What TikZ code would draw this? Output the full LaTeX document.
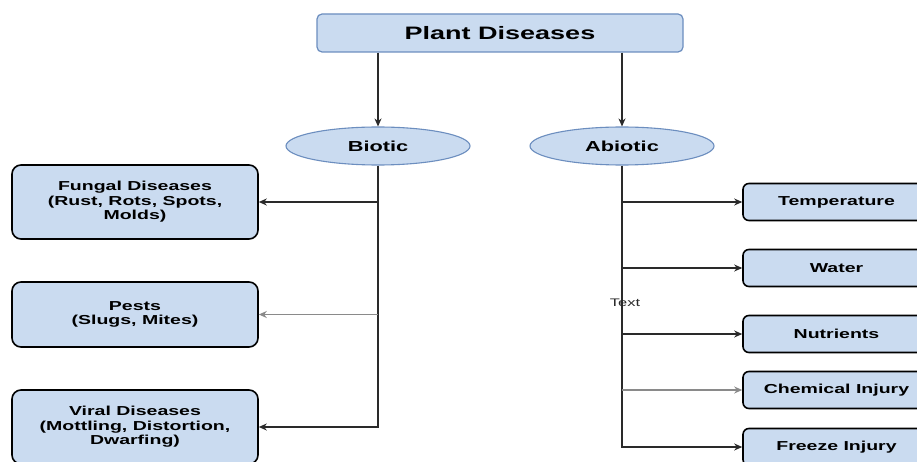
\documentclass[tikz,border=0pt]{standalone}
\usepackage{fontspec}
\setmainfont{Liberation Sans}[FakeStretch=1.5]
\usetikzlibrary{arrows.meta,shapes.geometric}
\definecolor{boxfill}{HTML}{CADBF0}
\definecolor{boxedge}{HTML}{6C8EBF}
\definecolor{linecol}{HTML}{2A2A2A}

\begin{document}
\begin{tikzpicture}[x=1pt,y=-1pt,
    rootbox/.style={draw=boxedge, fill=boxfill, line width=1.2pt, rounded corners=5pt,
      minimum width=366pt, minimum height=38pt, font=\fontsize{18}{20}\selectfont\bfseries},
    branch/.style={ellipse, draw=boxedge, fill=boxfill, line width=1.1pt, inner sep=0pt,
      minimum width=184pt, minimum height=38pt, font=\fontsize{14.5}{16}\selectfont\bfseries},
    leftbox/.style={draw=black, fill=boxfill, line width=1.6pt, rounded corners=9pt, align=center,
      minimum width=246pt, minimum height=74pt, font=\fontsize{13}{14.5}\selectfont\bfseries},
    rightbox/.style={draw=black, fill=boxfill, line width=1.6pt, rounded corners=6pt,
      minimum width=187pt, minimum height=37pt, font=\fontsize{13}{14.5}\selectfont\bfseries},
    link/.style={draw=linecol, line width=1.1pt, -{Stealth[length=8pt,width=7pt]}},
    faint/.style={link, draw=linecol!55}]
  \clip (0,0) rectangle (917,462);
  \fill[white] (0,0) rectangle (917,462);

  % top
  \node[rootbox] at (500,33) (root) {Plant Diseases};
  \node[branch] at (378,146) (biotic) {Biotic};
  \node[branch] at (622,146) (abiotic) {Abiotic};

  % biotic side
  \node[leftbox] at (135,202) (fungal) {Fungal Diseases\\(Rust, Rots, Spots,\\Molds)};
  \node[leftbox, minimum height=65pt] at (135,314.5) (pests) {Pests\\(Slugs, Mites)};
  \node[leftbox] at (135,427) (viral) {Viral Diseases\\(Mottling, Distortion,\\Dwarfing)};

  % abiotic side
  \node[rightbox] at (836.5,202) (temp) {Temperature};
  \node[rightbox] at (836.5,268) (water) {Water};
  \node[rightbox] at (836.5,334) (nutr) {Nutrients};
  \node[rightbox] at (836.5,390) (chem) {Chemical Injury};
  \node[rightbox] at (836.5,447) (freeze) {Freeze Injury};

  \node[font=\fontsize{11}{12}\selectfont, text=linecol] at (625,303) (label) {Text};

  \draw[link] (root.south -| biotic) -- (biotic.north);
  \draw[link] (root.south -| abiotic) -- (abiotic.north);

  \draw[link] (biotic.south) |- (viral.east);
  \draw[link] (biotic.south |- fungal.east) -- (fungal.east);
  \draw[faint] (biotic.south |- pests.east) -- (pests.east);

  \draw[link] (abiotic.south) |- (freeze.west);
  \draw[link] (abiotic.south |- temp.west) -- (temp.west);
  \draw[link] (abiotic.south |- water.west) -- (water.west);
  \draw[link] (abiotic.south |- nutr.west) -- (nutr.west);
  \draw[faint] (abiotic.south |- chem.west) -- (chem.west);
\end{tikzpicture}
\end{document}
